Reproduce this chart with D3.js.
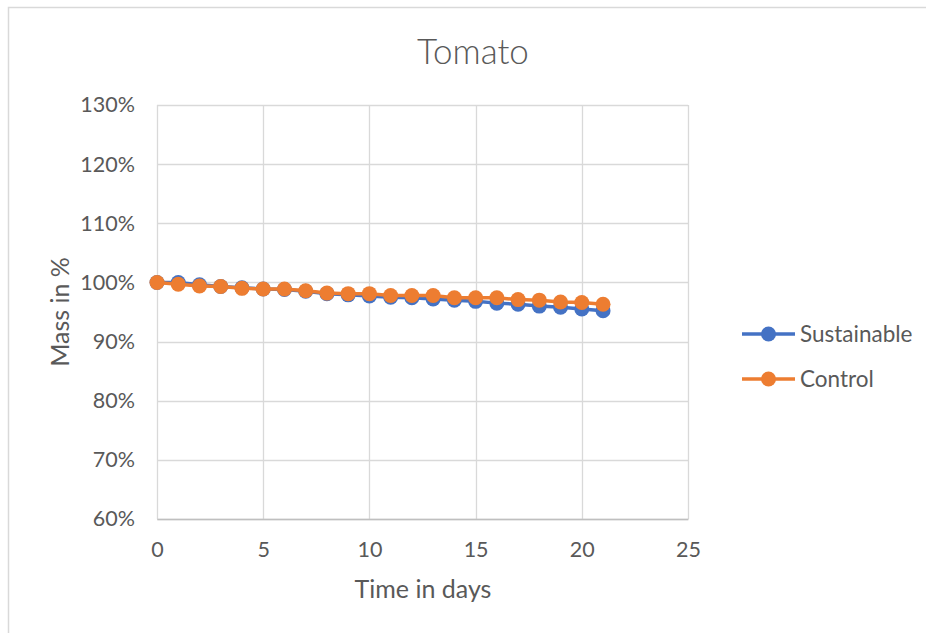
<!DOCTYPE html>
<html><head><meta charset="utf-8">
<script src="https://cdn.jsdelivr.net/npm/d3@7"></script>
<style>body{margin:0;background:#fff}svg{display:block}</style>
</head><body>
<svg id="c" width="926" height="633"></svg>
<script>
const days = [0,1,2,3,4,5,6,7,8,9,10,11,12,13,14,15,16,17,18,19,20,21];
const sustainable = [1.000,1.000,0.996,0.993,0.991,0.989,0.988,0.985,0.981,0.979,0.977,0.975,0.974,0.972,0.970,0.968,0.965,0.963,0.960,0.958,0.955,0.952];
const control = [1.000,0.997,0.994,0.993,0.990,0.989,0.989,0.986,0.982,0.981,0.981,0.978,0.978,0.978,0.974,0.974,0.974,0.971,0.970,0.967,0.966,0.963];
const xTicks = [0,5,10,15,20,25];
const yTicks = [0.6,0.7,0.8,0.9,1.0,1.1,1.2,1.3];
const seriesNames = ["Sustainable","Control"];
const colors = ["#4472C4","#ED7D31"];

const svg = d3.select("#c");
const font = "Lato, 'Open Sans', sans-serif";
const txt = "#595959";

// chart border
svg.append("path").attr("d","M8.5,633 V7.5 H926").attr("fill","none").attr("stroke","#d9d9d9").attr("stroke-width",1.5);

const x = d3.scaleLinear().domain([0,25]).range([157,688]);
const y = d3.scaleLinear().domain([0.6,1.3]).range([519,105]);

// gridlines
svg.append("g").selectAll("line").data(yTicks).join("line")
  .attr("x1",x(0)).attr("x2",x(25)).attr("y1",d=>Math.round(y(d))+0.5).attr("y2",d=>Math.round(y(d))+0.5)
  .attr("stroke","#d9d9d9").attr("stroke-width",1.3);
svg.append("g").selectAll("line").data(xTicks).join("line")
  .attr("y1",y(0.6)).attr("y2",y(1.3)).attr("x1",d=>Math.round(x(d))+0.5).attr("x2",d=>Math.round(x(d))+0.5)
  .attr("stroke","#d9d9d9").attr("stroke-width",1.3);

// axes
const yAxis = d3.axisLeft(y).tickValues(yTicks).tickFormat(d3.format(".0%")).tickSize(0).tickPadding(22);
const gy = svg.append("g").attr("transform",`translate(${x(0)},0)`).call(yAxis);
gy.select(".domain").remove();
gy.selectAll("text").attr("fill",txt).style("font-family",font).style("font-size","21.5px");

const xAxis = d3.axisBottom(x).tickValues(xTicks).tickFormat(d3.format("d")).tickSize(0).tickPadding(23);
const gx = svg.append("g").attr("transform",`translate(0,${y(0.6)})`).call(xAxis);
gx.select(".domain").attr("stroke","#bfbfbf").attr("stroke-width",1.3);
gx.selectAll("text").attr("fill",txt).style("font-family",font).style("font-size","21.5px");

// title
svg.append("text").attr("x",473).attr("y",64).attr("text-anchor","middle")
  .attr("fill",txt).style("font-family",font).style("font-weight","300").style("font-size","35px").text("Tomato");
// axis titles
svg.append("text").attr("x",423).attr("y",598).attr("text-anchor","middle")
  .attr("fill",txt).style("font-family",font).style("font-size","25px").text("Time in days");
svg.append("text").attr("transform","translate(69,312) rotate(-90)").attr("text-anchor","middle")
  .attr("fill",txt).style("font-family",font).style("font-size","25px").text("Mass in %");

// series
const data = [sustainable, control];
const line = d3.line().x((d,i)=>x(days[i])).y(d=>y(d));
data.forEach((vals,k)=>{
  const g = svg.append("g");
  g.append("path").datum(vals).attr("d",line).attr("fill","none").attr("stroke",colors[k]).attr("stroke-width",3.5);
  g.selectAll("circle").data(vals).join("circle")
    .attr("cx",(d,i)=>x(days[i])).attr("cy",d=>y(d)).attr("r",7.5).attr("fill",colors[k]);
});

// legend
const lg = svg.append("g");
seriesNames.forEach((n,k)=>{
  const ly = 334 + k*45;
  lg.append("line").attr("x1",742).attr("x2",795).attr("y1",ly).attr("y2",ly).attr("stroke",colors[k]).attr("stroke-width",3.5);
  lg.append("circle").attr("cx",768.5).attr("cy",ly).attr("r",7.5).attr("fill",colors[k]);
  lg.append("text").attr("x",800).attr("y",ly).attr("dy","0.35em").attr("fill",txt)
    .style("font-family",font).style("font-size","22.5px").text(n);
});
</script>
</body></html>
